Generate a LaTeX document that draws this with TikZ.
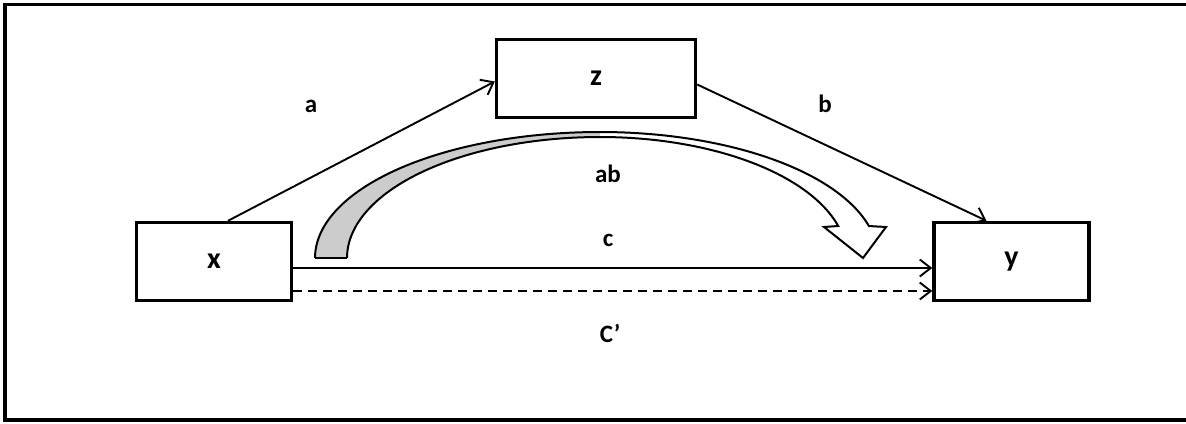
\documentclass[tikz,border=0pt]{standalone}
\usepackage{fontspec}
\setmainfont{Carlito}
\usetikzlibrary{arrows.meta}
\begin{document}
\begin{tikzpicture}[x=1pt,y=-1pt,
  boxnode/.style={draw,line width=3.4pt,inner sep=0pt,font=\fontsize{30}{34}\selectfont\bfseries},
  lbl/.style={inner sep=0pt,font=\fontsize{25}{29}\selectfont\bfseries},
  conn/.style={line width=1.9pt,-{Straight Barb[length=11pt,width=17pt,line width=1.9pt]}},
  frame/.style={line width=3.6pt},
  bandline/.style={draw=black,line width=2pt,line join=miter}]
\useasboundingbox (0,0) rectangle (1186,423);
\draw[frame] (1186,4.5) -- (5,4.5) -- (5,420) -- (1186,420);
% boxes
\node[boxnode,minimum width=155pt,minimum height=78pt] (xb) at (214,261.5) {x};
\node[boxnode,minimum width=155pt,minimum height=78pt] (yb) at (1011.5,261.5) {y};
\node[boxnode,minimum width=199pt,minimum height=78pt] (zb) at (596,78.5) {z};
% curved block arrow: fills
\fill[black!20]
  plot[domain=180:270,samples=60] ({600+285*cos(\x)},{258+126*sin(\x)})
  -- plot[domain=270:180,samples=60] ({600+253*cos(\x)},{258+121*sin(\x)})
  -- cycle;
\fill[white]
  plot[domain=270:345.3,samples=60] ({600+278*cos(\x)},{258+126*sin(\x)})
  -- (886,227) -- (863,258) -- (824,227)
  -- plot[domain=344.66:270,samples=60] ({600+247*cos(\x)},{258+121*sin(\x)})
  -- cycle;
% curved block arrow: outlines
\draw[bandline] (600+253*cos 180,258)
  -- plot[domain=180:270,samples=60] ({600+253*cos(\x)},{258+121*sin(\x)});
\draw[bandline] plot[domain=180:270,samples=60] ({600+285*cos(\x)},{258+126*sin(\x)});
\draw[bandline] (315,258) -- (347,258);
\draw[bandline]
  plot[domain=270:345.3,samples=60] ({600+278*cos(\x)},{258+126*sin(\x)})
  -- (886,227) -- (863,258) -- (824,227)
  -- plot[domain=344.66:270,samples=60] ({600+247*cos(\x)},{258+121*sin(\x)});
% connectors
\draw[conn] ([xshift=14pt]xb.north) -- ([yshift=-3pt]zb.west);
\draw[conn] ([yshift=-6pt]zb.east) -- ([xshift=-25pt]yb.north);
\draw[conn] ([yshift=-6.5pt]xb.east) -- ([yshift=-6.5pt]yb.west);
\draw[conn,dash pattern=on 9pt off 6pt] ([yshift=-29.5pt]xb.east) -- ([yshift=-29.5pt]yb.west);
% labels
\node[lbl] (la) at (311,106) {a};
\node[lbl] (lb) at (825,104) {b};
\node[lbl] (lab) at (608,174) {ab};
\node[lbl] (lc) at (608,240) {c};
\node[lbl] (lcp) at (610,333) {C’};
\end{tikzpicture}
\end{document}
